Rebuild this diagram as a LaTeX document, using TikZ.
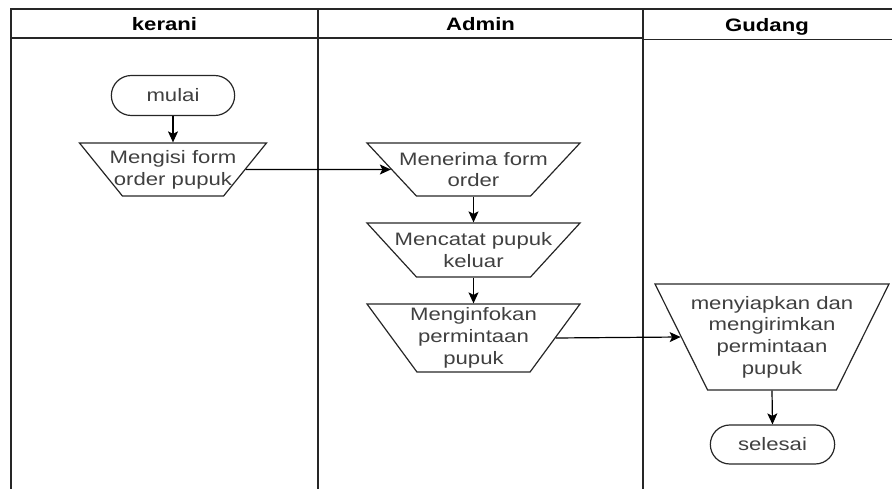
\documentclass[tikz,border=0pt]{standalone}
\usepackage{fontspec}
\setmainfont[FakeStretch=1.23]{Liberation Sans}
\usetikzlibrary{shapes.geometric,shapes.misc,arrows.meta}

\begin{document}
\begin{tikzpicture}[x=1pt,y=-1pt,
  every node/.style={font=\fontsize{18}{21.7}\selectfont},
  lane/.style={line width=1.3pt,black!85},
  head/.style={font=\fontsize{18}{21.7}\selectfont\bfseries},
  term/.style={rounded rectangle,draw=black!85,line width=1.2pt,text=black!75,minimum width=130,minimum height=40},
  manop/.style={trapezium,draw=black!85,line width=1.2pt,shape border rotate=180,trapezium stretches body,inner sep=0pt},
  txt/.style={align=center,text=black!75},
  flow/.style={-{Stealth[length=11pt,width=10pt,inset=2.5pt]},line width=1.2pt}]
\useasboundingbox (0,0) rectangle (892,489);
% swimlanes
\draw[lane] (11,489) -- (11,9) -- (892,9);
\draw[lane] (11,38) -- (643,38);
\draw[lane] (643,39.5) -- (892,39.5);
\draw[lane] (318,9) -- (318,489);
\draw[lane] (643,9) -- (643,489);
\node[head] (hkerani) at (164.5,24) {kerani};
\node[head] (hadmin) at (480.5,24) {Admin};
\node[head] (hgudang) at (767,27) {Gudang};
% kerani
\node[term] (mulai) at (173,95.5) {mulai};
\node[manop,trapezium angle=51,minimum width=187,
  label={[txt]center:{Mengisi form\\order pupuk}}] (isi) at (173,169.5) {\rule{0pt}{53pt}};
% admin
\node[manop,trapezium angle=47,minimum width=213,
  label={[txt]center:{Menerima form\\order}}] (terima) at (473.5,169.5) {\rule{0pt}{53pt}};
\node[manop,trapezium angle=47.5,minimum width=213,
  label={[txt]center:{Mencatat pupuk\\keluar}}] (catat) at (473.5,250) {\rule{0pt}{54pt}};
\node[manop,trapezium angle=53.7,minimum width=213,
  label={[txt]center:{Menginfokan\\permintaan\\pupuk}}] (info) at (473.5,338) {\rule{0pt}{68pt}};
% gudang
\node[manop,trapezium angle=63.6,minimum width=234,
  label={[txt]center:{menyiapkan dan\\mengirimkan\\permintaan\\pupuk}}] (siap) at (772,337) {\rule{0pt}{106pt}};
\node[term,minimum width=131,minimum height=39] (selesai) at (772.5,444.5) {selesai};
% alur
\draw[flow] (mulai.south) -- (isi.north);
\draw[flow] (isi.east) -- (terima.west);
\draw[flow] (terima.south) -- (catat.north);
\draw[flow] (catat.south) -- (info.north);
\draw[flow] (info.east) -- (siap.west);
\draw[flow] (siap.south) -- (selesai.north);
\end{tikzpicture}
\end{document}
